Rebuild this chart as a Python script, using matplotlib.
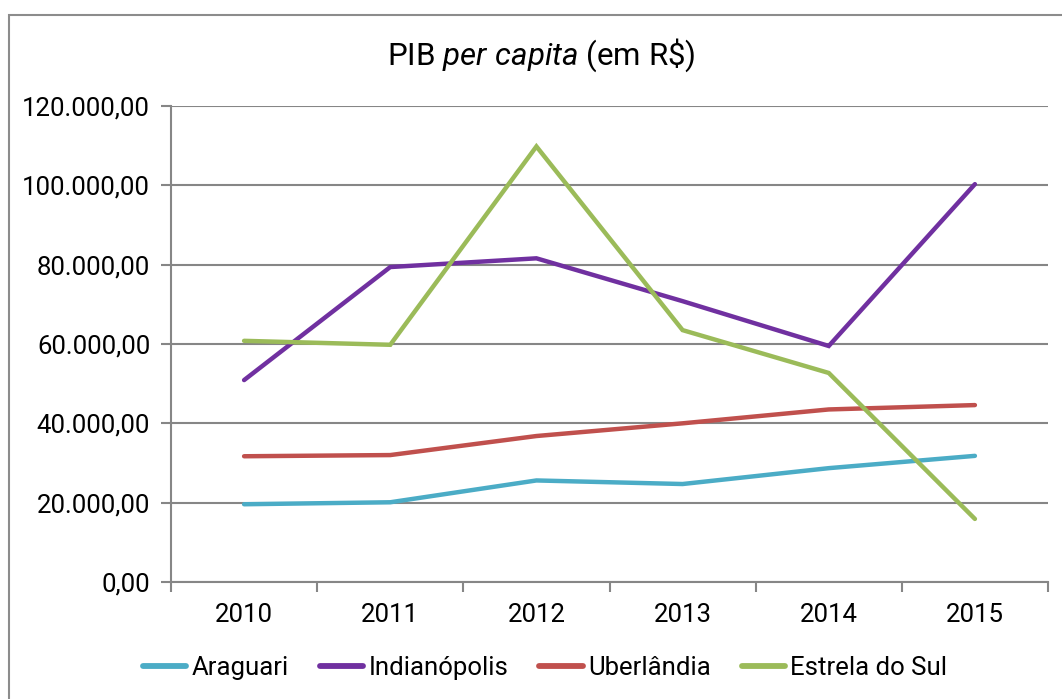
import matplotlib
matplotlib.use("Agg")
import matplotlib.pyplot as plt
from matplotlib.patches import Rectangle
from matplotlib.ticker import FuncFormatter, FixedLocator, NullFormatter
import numpy as np

# Data.
years = ["2010", "2011", "2012", "2013", "2014", "2015"]
araguari = [19600, 20100, 25600, 24700, 28700, 31800]
indianopolis = [50900, 79400, 81600, 70800, 59500, 100300]
uberlandia = [31700, 32000, 36800, 40000, 43500, 44600]
estrela_do_sul = [60800, 59800, 109800, 63500, 52700, 15900]
series_names = ["Araguari", "Indianópolis", "Uberlândia", "Estrela do Sul"]
series_colors = ["#4BACC6", "#7030A0", "#C0504D", "#9BBB59"]

FONT = ["Roboto", "DejaVu Sans"]
plt.rcParams["font.family"] = FONT
plt.rcParams["mathtext.fontset"] = "custom"
plt.rcParams["mathtext.it"] = "Roboto:italic"
plt.rcParams["mathtext.rm"] = "Roboto"


def br_format(v, pos):
    s = f"{v:,.2f}"
    return s.replace(",", "X").replace(".", ",").replace("X", ".")


W, H = 1062, 699
fig = plt.figure(figsize=(W / 100, H / 100), dpi=100)
ax = fig.add_axes([171 / W, (H - 582) / H, (1048 - 171) / W, 476 / H])

x = np.arange(len(years))
all_series = [araguari, indianopolis, uberlandia, estrela_do_sul]
for vals, name, col in zip(all_series, series_names, series_colors):
    ax.plot(x, vals, color=col, lw=3.2, label=name, solid_capstyle="round",
            solid_joinstyle="miter")

ax.set_xlim(-0.5, len(years) - 0.5)
ax.set_ylim(0, 120000)
ax.set_yticks(np.arange(0, 120001, 20000))
ax.yaxis.set_major_formatter(FuncFormatter(br_format))
ax.grid(axis="y", color="#868686", lw=1.5)
ax.set_axisbelow(True)

# Category labels centred, tick marks on the boundaries.
ax.xaxis.set_major_locator(FixedLocator(np.arange(-0.5, len(years), 1.0)))
ax.xaxis.set_major_formatter(NullFormatter())
ax.xaxis.set_minor_locator(FixedLocator(x))
ax.set_xticklabels(years, minor=True)
ax.tick_params(axis="x", which="minor", length=0, pad=15, labelsize=18.5)
ax.tick_params(axis="x", which="major", length=7, width=1.5, color="#868686",
               direction="out")
ax.tick_params(axis="y", length=7, width=1.5, color="#868686", pad=8,
               labelsize=18.5)

for side in ["top", "right"]:
    ax.spines[side].set_visible(False)
for side in ["left", "bottom"]:
    ax.spines[side].set_color("#868686")
    ax.spines[side].set_linewidth(1.5)

fig.text(541 / W, 1 - 55 / H, r"PIB $\mathit{per\ capita}$ (em R\$)",
         ha="center", va="center", fontsize=22.5)

leg = fig.legend(loc="center", bbox_to_anchor=(545 / W, 1 - 668 / H), ncol=4,
                 frameon=False, fontsize=18.5, handlelength=1.7,
                 handletextpad=0.2, columnspacing=1.2)
for line in leg.get_lines():
    line.set_linewidth(4.2)

# Outer chart border.
fig.patches.append(Rectangle((9 / W, -0.1), 1200 / W, 1.1 - 15 / H,
                             transform=fig.transFigure, fill=False,
                             edgecolor="#8c8c8c", lw=1.5))

fig.savefig("out.png", dpi=100)
